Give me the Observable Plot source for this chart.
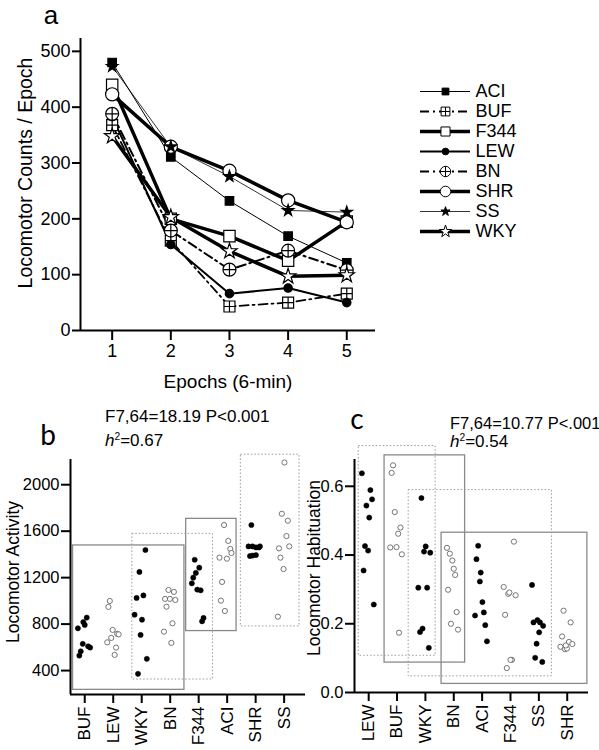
<!DOCTYPE html>
<html><head><meta charset="utf-8">
<script src="https://cdn.jsdelivr.net/npm/d3@7"></script>
<script src="https://cdn.jsdelivr.net/npm/@observablehq/plot@0.6"></script>
<style>
body{margin:0;background:#fff;}
#root{position:relative;width:599px;height:750px;overflow:hidden;font-family:"Liberation Sans",Arial,sans-serif;color:#000;background:#fff}
#root svg{position:absolute;background:transparent;overflow:visible;max-width:none}
.t{position:absolute;white-space:nowrap;line-height:1;}
.t sup{font-size:0.6em;line-height:0;vertical-align:0.55em;}
</style></head><body><div id="root"></div>
<script>
// ---------- Panel a data ----------
const epochs = [1, 2, 3, 4, 5];
const strains = ["ACI", "BUF", "F344", "LEW", "BN", "SHR", "SS", "WKY"];
const countsACI  = [480, 311, 232, 169, 121];
const countsBUF  = [368, 161, 43, 50, 66];
const countsF344 = [440, 200, 169, 125, 195];
const countsLEW  = [383, 154, 66, 76, 50];
const countsBN   = [388, 179, 109, 143, 108];
const countsSHR  = [423, 329, 286, 233, 194];
const countsSS   = [473, 329, 276, 215, 212];
const countsWKY  = [348, 203, 142, 97, 99];
const countTicks = [0, 100, 200, 300, 400, 500];

// ---------- Panel b data (locomotor activity) ----------
const actOrder = ["BUF", "LEW", "WKY", "BN", "F344", "ACI", "SHR", "SS"];
const actFilled = ["BUF", "WKY", "F344", "SHR"];
const actBUF  = [764, 856, 818, 793, 630, 609, 598, 566, 529];
const actLEW  = [999, 948, 750, 716, 712, 681, 643, 598, 535];
const actWKY  = [1438, 1249, 1025, 1047, 881, 838, 707, 501, 372];
const actBN   = [1094, 1077, 1017, 1017, 1008, 950, 807, 735, 638];
const actF344 = [1354, 1286, 1241, 1200, 1151, 1097, 1091, 853, 824];
const actACI  = [1653, 1516, 1447, 1412, 1372, 1363, 1163, 1002, 913];
const actSHR  = [1653, 1469, 1469, 1460, 1460, 1469, 1386, 1390, 1394];
const actSS   = [2191, 1750, 1690, 1558, 1469, 1452, 1372, 1274, 864];
// horizontal spread of each animal within its strain (fraction of a category slot)
const actSpreadBUF  = [-0.24, 0.07, -0.05, 0, -0.07, 0.12, 0.19, -0.14, -0.19];
const actSpreadLEW  = [-0.12, -0.17, -0.02, 0.14, 0.19, -0.07, -0.21, 0.1, 0.05];
const actSpreadWKY  = [0.13, -0.08, -0.18, 0.06, -0.25, 0.01, -0.04, 0.18, -0.13];
const actSpreadBN   = [-0.06, 0.13, -0.18, -0.01, 0.18, -0.13, 0.08, -0.22, 0.04];
const actSpreadF344 = [-0.14, 0.02, -0.1, -0.19, -0.24, -0.05, 0.07, 0.17, 0.12];
const actSpreadACI  = [-0.11, 0.04, 0.11, 0.15, -0.27, -0.01, -0.18, -0.22, -0.08];
const actSpreadSHR  = [-0.15, -0.25, -0.11, 0.01, 0.11, 0.15, -0.2, -0.11, 0.01];
const actSpreadSS   = [0.01, -0.08, 0.13, 0.08, 0.18, -0.18, -0.13, -0.02, -0.22];
const actTicks = [400, 800, 1200, 1600, 2000];
// grouping boxes (category-slot units and activity units)
const actBoxFrom = [-0.41, 1.67, 3.56, 5.48];
const actBoxTo   = [3.5, 4.5, 5.33, 7.54];
const actBoxLow  = [234, 323, 740, 780];
const actBoxHigh = [1477, 1577, 1706, 2258];
const actBoxDotted = [false, true, false, true];

// ---------- Panel c data (locomotor habituation) ----------
const habOrder = ["LEW", "BUF", "WKY", "BN", "ACI", "F344", "SS", "SHR"];
const habFilled = ["LEW", "WKY", "ACI", "SS"];
const habLEW  = [0.638, 0.589, 0.562, 0.544, 0.509, 0.426, 0.413, 0.355, 0.256];
const habBUF  = [0.661, 0.639, 0.525, 0.48, 0.462, 0.422, 0.423, 0.402, 0.174];
const habWKY  = [0.566, 0.425, 0.41, 0.407, 0.305, 0.305, 0.186, 0.176, 0.13];
const habBN   = [0.421, 0.404, 0.384, 0.36, 0.342, 0.299, 0.234, 0.2, 0.183];
const habACI  = [0.427, 0.388, 0.349, 0.323, 0.263, 0.233, 0.224, 0.196, 0.149];
const habF344 = [0.439, 0.307, 0.287, 0.291, 0.283, 0.226, 0.095, 0.095, 0.071];
const habSS   = [0.313, 0.204, 0.211, 0.204, 0.194, 0.175, 0.142, 0.101, 0.089];
const habSHR  = [0.238, 0.204, 0.163, 0.147, 0.141, 0.133, 0.126, 0.128, 0.137];
const habSpreadLEW  = [-0.24, 0.06, 0.12, -0.08, 0.02, -0.13, -0.02, -0.18, 0.18];
const habSpreadBUF  = [-0.14, -0.19, -0.08, 0.12, 0.04, -0.24, -0.02, 0.17, 0.07];
const habSpreadWKY  = [-0.14, 0.01, -0.05, 0.17, -0.25, 0.06, -0.1, -0.19, 0.12];
const habSpreadBN   = [-0.24, -0.14, -0.05, 0, 0.05, -0.2, 0.1, -0.1, 0.15];
const habSpreadACI  = [-0.14, -0.2, -0.05, -0.08, 0.01, 0.06, -0.25, 0.11, 0.17];
const habSpreadF344 = [0.12, -0.24, -0.08, -0.04, 0.18, -0.19, 0.05, 0, -0.13];
const habSpreadSS   = [-0.24, -0.19, -0.05, 0.04, 0.15, 0.01, -0.08, -0.13, 0.12];
const habSpreadSHR  = [-0.13, 0.12, -0.18, 0.06, 0.18, -0.24, -0.08, -0.01, -0.05];
const habTicks = [0, 0.2, 0.4, 0.6];
const habBoxFrom = [-0.35, 0.56, 1.41, 2.57];
const habBoxTo   = [2.36, 3.4, 6.46, 7.71];
const habBoxLow  = [0.107, 0.087, 0.047, 0.025];
const habBoxHigh = [0.717, 0.69, 0.589, 0.465];
const habBoxDotted = [true, false, true, false];

// ---------- assemble tables ----------
const counts = {ACI: countsACI, BUF: countsBUF, F344: countsF344, LEW: countsLEW, BN: countsBN, SHR: countsSHR, SS: countsSS, WKY: countsWKY};
const actVals = {BUF: actBUF, LEW: actLEW, WKY: actWKY, BN: actBN, F344: actF344, ACI: actACI, SHR: actSHR, SS: actSS};
const actSpread = {BUF: actSpreadBUF, LEW: actSpreadLEW, WKY: actSpreadWKY, BN: actSpreadBN, F344: actSpreadF344, ACI: actSpreadACI, SHR: actSpreadSHR, SS: actSpreadSS};
const habVals = {LEW: habLEW, BUF: habBUF, WKY: habWKY, BN: habBN, ACI: habACI, F344: habF344, SS: habSS, SHR: habSHR};
const habSpread = {LEW: habSpreadLEW, BUF: habSpreadBUF, WKY: habSpreadWKY, BN: habSpreadBN, ACI: habSpreadACI, F344: habSpreadF344, SS: habSpreadSS, SHR: habSpreadSHR};

const squarePlus = {draw(c, size) {const s = Math.sqrt(size) / 2;
  c.moveTo(-s, -s); c.lineTo(s, -s); c.lineTo(s, s); c.lineTo(-s, s); c.closePath();
  c.moveTo(0, -s); c.lineTo(0, s); c.moveTo(-s, 0); c.lineTo(s, 0);}};
const circlePlus = {draw(c, size) {const r = Math.sqrt(size / Math.PI);
  c.moveTo(r, 0); c.arc(0, 0, r, 0, 2 * Math.PI);
  c.moveTo(0, -r); c.lineTo(0, r); c.moveTo(-r, 0); c.lineTo(r, 0);}};
const dashDot = "9,4,2,4";
const look = {
  ACI:  {sw: 1,   dash: null,    sym: "square", fill: "black", r: 4.8},
  BUF:  {sw: 1.8, dash: dashDot, sym: squarePlus, fill: "white", r: 6.2},
  F344: {sw: 3.5, dash: null,    sym: "square", fill: "white", r: 6.4},
  LEW:  {sw: 2,   dash: null,    sym: "circle", fill: "black", r: 4.2},
  BN:   {sw: 2,   dash: dashDot, sym: circlePlus, fill: "white", r: 6.5},
  SHR:  {sw: 3.5, dash: null,    sym: "circle", fill: "white", r: 6.6},
  SS:   {sw: 0.8, dash: null,    sym: "star",   fill: "black", r: 3.6},
  WKY:  {sw: 3.5, dash: null,    sym: "star",   fill: "white", r: 4.8}
};

const FONT = "'Liberation Sans', Arial, sans-serif";
const root = document.getElementById("root");
function place(svg, left, top) { svg.style.left = left + "px"; svg.style.top = top + "px"; root.appendChild(svg); }
function txt(html, x, y, o = {}) {
  const d = document.createElement("div");
  d.className = "t";
  d.innerHTML = html;
  d.style.left = x + "px"; d.style.top = y + "px";
  d.style.fontSize = (o.size || 17) + "px";
  d.style.fontFamily = o.font || FONT;
  if (o.lh) d.style.lineHeight = o.lh;
  const ax = o.anchor === "start" ? "0" : o.anchor === "end" ? "-100%" : "-50%";
  d.style.transform = `translate(${ax},-50%)` + (o.rotate ? ` rotate(${o.rotate}deg)` : "");
  root.appendChild(d);
}

// ---------- Panel a ----------
const xA = [0.46, 5.49], yA = [0, 523];
const rowsA = s => epochs.map((e, i) => ({epoch: e, value: counts[s][i]}));
const plotA = Plot.plot({
  width: 390, height: 400, marginLeft: 80, marginRight: 15, marginTop: 38, marginBottom: 70,
  style: {fontFamily: FONT, background: "transparent", overflow: "visible"},
  x: {domain: xA}, y: {domain: yA},
  marks: [
    Plot.ruleX([xA[0]], {y1: yA[0], y2: yA[1], strokeWidth: 2}),
    Plot.ruleY([yA[0]], {x1: xA[0], x2: xA[1], strokeWidth: 2}),
    Plot.axisY({ticks: countTicks, tickFormat: d => String(d), tickSize: 8, tickPadding: 2, strokeWidth: 2, fontSize: 18, label: null}),
    Plot.axisX({ticks: epochs, tickFormat: d => String(d), tickSize: 10, tickPadding: 4, strokeWidth: 2, fontSize: 18, label: null}),
    ...strains.map(s => Plot.line(rowsA(s), {x: "epoch", y: "value", stroke: "black", strokeWidth: look[s].sw, strokeDasharray: look[s].dash || undefined})),
    ...strains.map(s => Plot.dot(rowsA(s), {x: "epoch", y: "value", symbol: look[s].sym, r: look[s].r, fill: look[s].fill, stroke: "black", strokeWidth: 1.2}))
  ]
});
place(plotA, 0, 0);

// legend
const legend = Plot.plot({
  width: 189, height: 200, margin: 0,
  style: {fontFamily: FONT, background: "transparent", overflow: "visible"},
  x: {domain: [0, 1], range: [10, 60], axis: null},
  y: {type: "point", domain: strains, range: [18, 183], axis: null},
  marks: [
    ...strains.map(s => Plot.ruleY([s], {x1: 0, x2: 1, stroke: "black", strokeWidth: look[s].sw, strokeDasharray: look[s].dash || undefined})),
    ...strains.map(s => Plot.dot([s], {x: 0.5, y: d => d, symbol: look[s].sym, r: look[s].r * 0.8, fill: look[s].fill, stroke: "black", strokeWidth: 1})),
    Plot.text(strains, {x: 1, y: d => d, text: d => d, dx: 5, textAnchor: "start", fontSize: 18})
  ]
});
place(legend, 410, 60);

// ---------- Panel b / c builder ----------
function scatterPanel(order, filled, vals, spread, yDom, ticks, fmt, boxes, size) {
  const xDom = [-0.5, 7.75];
  const pts = order.flatMap((s, k) => vals[s].map((v, i) => ({x: k + spread[s][i], y: v, filled: filled.includes(s)})));
  const boxRows = boxes.from.map((f, i) => ({x1: f, x2: boxes.to[i], y1: boxes.low[i], y2: boxes.high[i], dotted: boxes.dotted[i]}));
  return Plot.plot({
    ...size,
    style: {fontFamily: FONT, background: "transparent", overflow: "visible"},
    x: {domain: xDom}, y: {domain: yDom},
    marks: [
      Plot.rect(boxRows.filter(d => !d.dotted), {x1: "x1", x2: "x2", y1: "y1", y2: "y2", fill: "none", stroke: "#8a8a8a", strokeWidth: 1.3}),
      Plot.rect(boxRows.filter(d => d.dotted), {x1: "x1", x2: "x2", y1: "y1", y2: "y2", fill: "none", stroke: "#9a9a9a", strokeWidth: 1, strokeDasharray: "1.5,2"}),
      Plot.ruleX([xDom[0]], {y1: yDom[0], y2: yDom[1], strokeWidth: 2}),
      Plot.ruleY([yDom[0]], {x1: xDom[0], x2: xDom[1], strokeWidth: 2}),
      Plot.axisY({ticks, tickFormat: fmt, tickSize: 9, tickPadding: 2, strokeWidth: 2, fontSize: 16.5, label: null}),
      Plot.axisX({ticks: d3.range(order.length), tickFormat: i => order[i], tickRotate: -90, tickSize: 9, tickPadding: 3, strokeWidth: 2, fontSize: 17, label: null}),
      Plot.dot(pts.filter(d => d.filled), {x: "x", y: "y", r: 2.6, fill: "black", stroke: "black", strokeWidth: 0.5}),
      Plot.dot(pts.filter(d => !d.filled), {x: "x", y: "y", r: 2.6, fill: "white", stroke: "#666", strokeWidth: 0.9})
    ]
  });
}

const plotB = scatterPanel(actOrder, actFilled, actVals, actSpread, [194, 2217], actTicks, d => String(d),
  {from: actBoxFrom, to: actBoxTo, low: actBoxLow, high: actBoxHigh, dotted: actBoxDotted},
  {width: 320, height: 370, marginLeft: 70, marginRight: 15, marginTop: 79, marginBottom: 56});
place(plotB, 0, 380);

const plotC = scatterPanel(habOrder, habFilled, habVals, habSpread, [0, 0.678], habTicks, d3.format(".1f"),
  {from: habBoxFrom, to: habBoxTo, low: habBoxLow, high: habBoxHigh, dotted: habBoxDotted},
  {width: 299, height: 370, marginLeft: 54, marginRight: 11, marginTop: 79, marginBottom: 58});
place(plotC, 300, 380);

// ---------- text ----------
const LETTER = "Lato, 'Open Sans', sans-serif";
txt("a", 51, 15.2, {size: 26, font: FONT, lh: "0.5"});
txt("Locomotor Counts / Epoch", 26, 173, {size: 19.5, rotate: -90});
txt("Epochs (6-min)", 228, 381, {size: 19});
txt("b", 48, 434, {size: 28, font: LETTER, lh: "0.6"});
txt("F7,64=18.19 P&lt;0.001", 105, 416, {size: 17, anchor: "start"});
txt("<i>h</i><sup>2</sup>=0.67", 105, 440, {size: 17, anchor: "start"});
txt("Locomotor Activity", 14, 572, {size: 17.5, rotate: -90});
txt("c", 357, 418, {size: 28, font: LETTER, lh: "0.6"});
txt("F7,64=10.77 P&lt;.001", 450, 423, {size: 16.5, anchor: "start"});
txt("<i>h</i><sup>2</sup>=0.54", 450, 441, {size: 17, anchor: "start"});
txt("Locomotor Habituation", 315, 568, {size: 17.5, rotate: -90});
</script></body></html>
